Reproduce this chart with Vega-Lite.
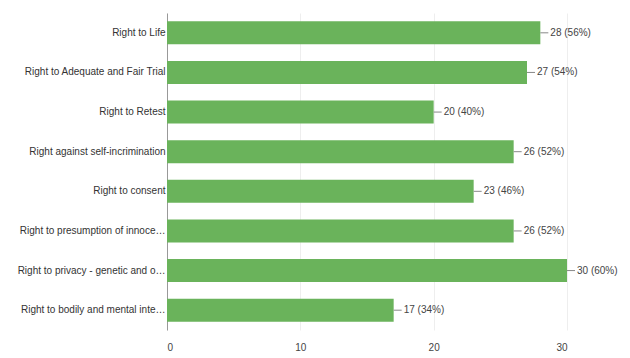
{
  "$schema": "https://vega.github.io/schema/vega-lite/v6.json",
  "width": 400,
  "height": 317,
  "autosize": {"type": "none"},
  "padding": {"left": 167, "top": 13, "right": 63, "bottom": 28},
  "background": "white",
  "config": {"view": {"stroke": null}, "font": "Liberation Sans"},
  "data": {
    "values": [
      {"right": "Right to Life", "count": 28, "label": "28 (56%)"},
      {"right": "Right to Adequate and Fair Trial", "count": 27, "label": "27 (54%)"},
      {"right": "Right to Retest", "count": 20, "label": "20 (40%)"},
      {"right": "Right against self-incrimination", "count": 26, "label": "26 (52%)"},
      {"right": "Right to consent", "count": 23, "label": "23 (46%)"},
      {"right": "Right to presumption of innoce…", "count": 26, "label": "26 (52%)"},
      {"right": "Right to privacy - genetic and o…", "count": 30, "label": "30 (60%)"},
      {"right": "Right to bodily and mental inte…", "count": 17, "label": "17 (34%)"}
    ]
  },
  "encoding": {
    "y": {
      "field": "right", "type": "nominal", "sort": null,
      "scale": {"paddingInner": 0.42, "paddingOuter": 0.21},
      "axis": {"title": null, "ticks": false, "domain": true, "domainColor": "#999", "labelFontSize": 10, "labelColor": "#333", "labelPadding": 2, "labelLimit": 200}
    }
  },
  "layer": [
    {
      "mark": {"type": "bar", "color": "#6ab35b"},
      "encoding": {
        "x": {
          "field": "count", "type": "quantitative",
          "scale": {"domain": [0, 30], "nice": false},
          "axis": {"title": null, "values": [0, 10, 20, 30], "ticks": false, "domain": false, "grid": true, "gridColor": "#eee", "labelFontSize": 10, "labelColor": "#444", "labelPadding": 12}
        }
      }
    },
    {
      "mark": {"type": "rule", "color": "#888", "x2Offset": 8, "strokeWidth": 1},
      "encoding": {
        "x": {"field": "count", "type": "quantitative"},
        "x2": {"field": "count"}
      }
    },
    {
      "mark": {"type": "text", "align": "left", "dx": 10, "fontSize": 10, "color": "#444"},
      "encoding": {
        "x": {"field": "count", "type": "quantitative"},
        "text": {"field": "label"}
      }
    }
  ]
}
